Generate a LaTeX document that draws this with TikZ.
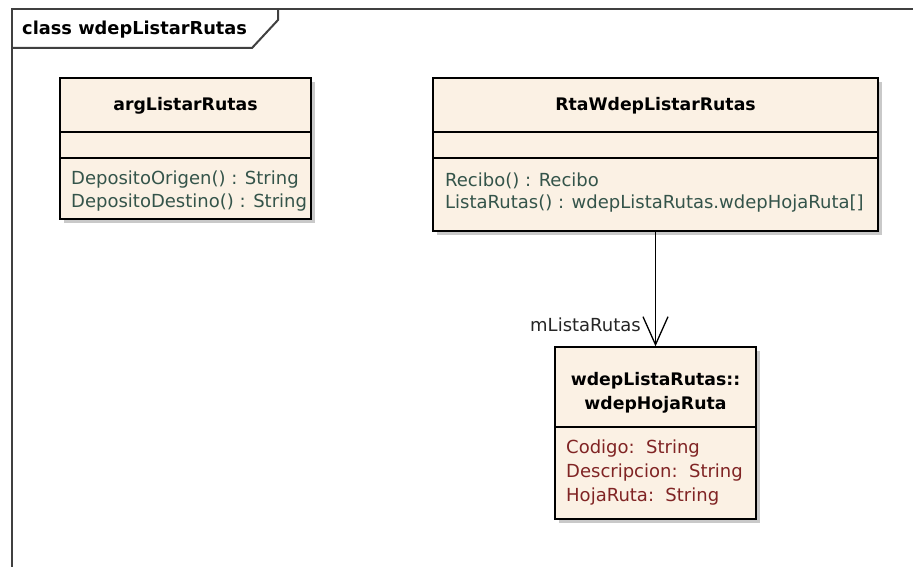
\documentclass[tikz,border=0pt]{standalone}
\usepackage{fontspec}
\setmainfont{DejaVu Sans}
\usetikzlibrary{positioning,fit,shadows,arrows.meta}
\definecolor{Crema}{RGB}{251,241,228}
\definecolor{Verdoso}{RGB}{52,84,74}
\definecolor{Granate}{RGB}{128,36,36}
\definecolor{Marco}{RGB}{64,64,64}
\tikzset{linea/.style={draw=black,line width=1.4pt}}

\begin{document}
\begin{tikzpicture}[x=1pt,y=-1pt]
		\tikzstyle{Clase}=[rectangle,fill=Crema,draw=black,line width=1.4pt,inner sep=0pt,
			drop shadow={shadow xshift=4pt,shadow yshift=-4pt,fill=black!30,opacity=0.7}]
		\tikzstyle{Titulo}=[font=\fontsize{17.3}{24}\selectfont\bfseries,align=center,inner sep=0pt]
		\tikzstyle{Oper}=[font=\fontsize{18}{20}\selectfont,text=Verdoso,anchor=west,inner sep=0pt]
		\tikzstyle{Atrib}=[Oper,text=Granate]
		\tikzstyle{Borde}=[draw=Marco,line width=2pt]
		\tikzstyle{Assoc}=[-{Straight Barb[length=28pt,width=25pt]},line width=1.3pt]

		\def\sep {23}

		\useasboundingbox (0,0) rectangle (913,567);

		% frame
		\draw [Borde] (913,9) -- (12,9) -- (12,567);
		\draw [Borde] (12,48) -- (252,48) -- (278,20) -- (278,9);
		\node [Titulo,font=\fontsize{17.8}{24}\selectfont\bfseries,anchor=west] (frame) at (22,30) {class wdepListarRutas};

		\node [Clase,fit={(60,78) (311,219)}] (Arg) {};
		\node [Clase,fit={(433,78) (878,231)}] (Rta) {};
		\node [Clase,fit={(555,347) (756,519)}] (Hoja) {};

		\foreach \c/\y in {Arg/132,Arg/158,Rta/132,Rta/158,Hoja/427}
			\draw [linea] (\c.west |- 0,\y) -- (\c.east |- 0,\y);

		\node [Titulo] (nArg) at (Arg.center |- 0,106) {argListarRutas};
		\node [Titulo] (nRta) at (Rta.center |- 0,106) {RtaWdepListarRutas};
		\node [Titulo] (nHoja) at (Hoja.center |- 0,393) {wdepListaRutas::\\wdepHojaRuta};

		\foreach \t [count=\k] in {DepositoOrigen() : String,DepositoDestino() : String}
			\node [Oper] (opArg\k) at (71,{157+\sep*\k}) {\t};
		\foreach \t [count=\k] in {Recibo() : Recibo,{ListaRutas() : wdepListaRutas.wdepHojaRuta[]}}
			\node [Oper] (opRta\k) at (445,{158+\sep*\k}) {\t};
		\foreach \t [count=\k] in {Codigo:~~String,Descripcion:~~String,HojaRuta:~~String}
			\node [Atrib] (at\k) at (566,{425+24*\k}) {\t};

		\draw [Assoc] (Rta) -- (Hoja);
		\node [Oper,text=black!85,anchor=east] (rol) at (641,325) {mListaRutas};

\end{tikzpicture}
\end{document}
